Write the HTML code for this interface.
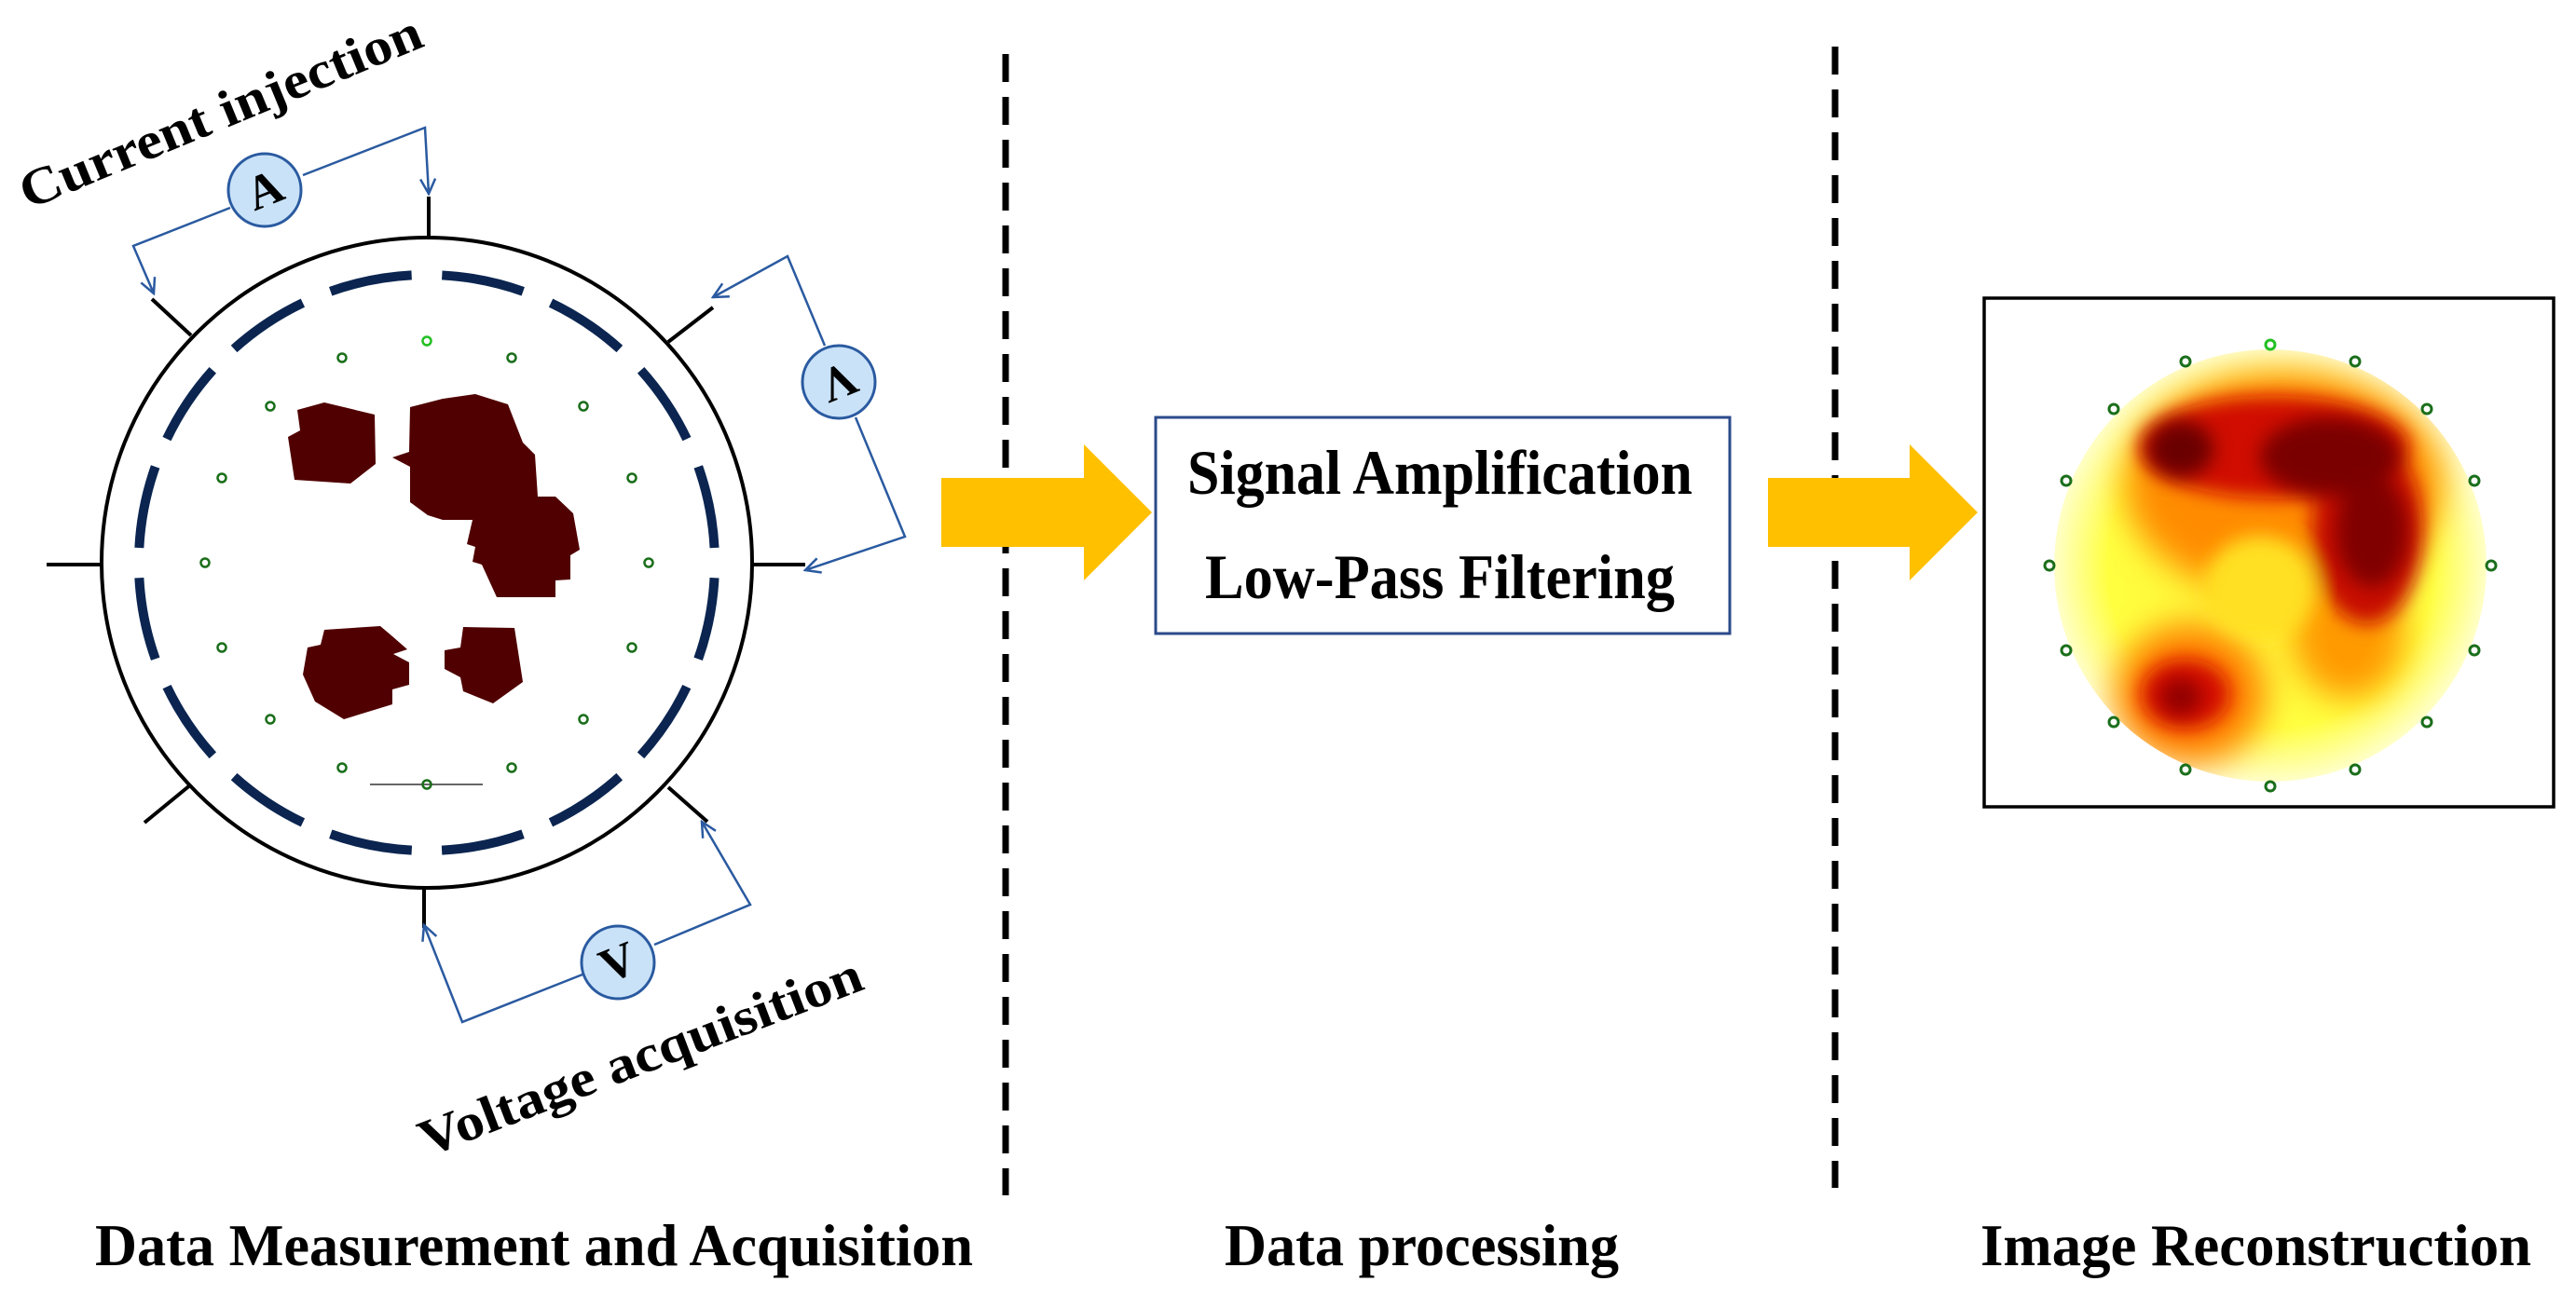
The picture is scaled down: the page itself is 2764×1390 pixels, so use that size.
<!DOCTYPE html>
<html><head><meta charset="utf-8"><style>html,body{margin:0;padding:0;background:#fff}svg{display:block}</style></head>
<body>
<svg width="2764" height="1390" viewBox="0 0 2764 1390" xmlns="http://www.w3.org/2000/svg">
<defs>
<radialGradient id="base" cx="0.5" cy="0.5" r="0.5">
<stop offset="0" stop-color="#ffee30"/><stop offset="0.75" stop-color="#ffff40"/><stop offset="1" stop-color="#ffffc8"/>
</radialGradient>
<filter id="bl" x="-50%" y="-50%" width="200%" height="200%"><feGaussianBlur stdDeviation="18"/></filter>
<filter id="bl2" x="-50%" y="-50%" width="200%" height="200%"><feGaussianBlur stdDeviation="10"/></filter>
<clipPath id="hc"><circle cx="2436" cy="607" r="232"/></clipPath>
<marker id="ar" viewBox="0 0 20 20" refX="18" refY="10" markerWidth="20" markerHeight="20" markerUnits="userSpaceOnUse" orient="auto"><path d="M2,2 L18,10 L2,18" fill="none" stroke="#2a5aa0" stroke-width="2.5"/></marker>
</defs>

<line x1="1079" y1="58" x2="1079" y2="1283" stroke="#000" stroke-width="7" stroke-dasharray="30 16"/>
<line x1="1969" y1="50" x2="1969" y2="1275" stroke="#000" stroke-width="7" stroke-dasharray="30 16"/>

<circle cx="458" cy="604" r="349" fill="#fff" stroke="#000" stroke-width="4"/>
<path d="M458,295 A309,309 0 1 1 457.9,295" fill="none" stroke="#0b2550" stroke-width="10" stroke-dasharray="89 32.3" stroke-dashoffset="105"/>
<g stroke="#000" stroke-width="4">
<line x1="460" y1="255" x2="460" y2="211"/>
<line x1="110" y1="606" x2="50" y2="606"/>
<line x1="807" y1="606" x2="864" y2="606"/>
<line x1="455" y1="952" x2="455" y2="996"/>
<line x1="205" y1="360" x2="163" y2="321"/>
<line x1="717" y1="367" x2="765" y2="330"/>
<line x1="205" y1="842" x2="155" y2="883"/>
<line x1="717" y1="845" x2="759" y2="882"/>
</g>
<g fill="#500000">
<polygon points="319,440 348,432 402,445 403,498 376,519 316,515 309,469 322,462"/>
<polygon points="440,437 475,428 510,423 545,434 561,475 574,488 577,533 596,533 615,551 622,590 612,596 612,622 596,623 596,641 533,641 517,606 507,603 510,587 501,584 507,558 475,558 459,553 440,539 440,501 421,491 439,485"/>
<polygon points="348,676 408,672 421,683 437,697 422,702 439,711 439,735 421,740 421,756 369,772 338,753 325,724 330,695 344,692"/>
<polygon points="497,673 552,674 561,732 529,755 497,742 494,727 477,718 477,698 494,695"/>
</g>
<line x1="397" y1="842" x2="518" y2="842" stroke="#333" stroke-width="1.5"/>
<g fill="none" stroke="#1a6e1a" stroke-width="2.5">
<circle cx="458" cy="366" r="4.5" stroke="#22c022"/>
<circle cx="549" cy="384" r="4.5"/><circle cx="626" cy="436" r="4.5"/><circle cx="678" cy="513" r="4.5"/>
<circle cx="696" cy="604" r="4.5"/><circle cx="678" cy="695" r="4.5"/><circle cx="626" cy="772" r="4.5"/>
<circle cx="549" cy="824" r="4.5"/><circle cx="458" cy="842" r="4.5"/><circle cx="367" cy="824" r="4.5"/>
<circle cx="290" cy="772" r="4.5"/><circle cx="238" cy="695" r="4.5"/><circle cx="220" cy="604" r="4.5"/>
<circle cx="238" cy="513" r="4.5"/><circle cx="290" cy="436" r="4.5"/><circle cx="367" cy="384" r="4.5"/>
</g>

<g fill="none" stroke="#2a5aa0" stroke-width="2.5">
<polyline points="247,223 143,264 165,315" marker-end="url(#ar)"/>
<polyline points="325,188 456,137 460,208" marker-end="url(#ar)"/>
<polyline points="885,371 845,275 765,319" marker-end="url(#ar)"/>
<polyline points="918,448 971,576 864,612" marker-end="url(#ar)"/>
<polyline points="625,1046 496,1097 455,993" marker-end="url(#ar)"/>
<polyline points="702,1014 805,971 753,882" marker-end="url(#ar)"/>
</g>
<g fill="#c9e2f8" stroke="#2a5aa0" stroke-width="3">
<circle cx="284" cy="204" r="39"/><circle cx="900" cy="410" r="39"/><circle cx="663" cy="1033" r="39"/>
</g>
<g font-family="Liberation Serif, serif" font-weight="bold" font-size="52" text-anchor="middle" fill="#000">
<text x="284" y="221" transform="rotate(-22 284 204)">A</text>
<text x="900" y="427" transform="rotate(158 900 410)">V</text>
<text x="663" y="1050" transform="rotate(-22 663 1033)">V</text>
</g>
<g font-family="Liberation Serif, serif" font-weight="bold" font-size="56" fill="#000">
<text x="30" y="225" transform="rotate(-22.4 30 225)" textLength="462" lengthAdjust="spacingAndGlyphs">Current injection</text>
<text x="458" y="1242" transform="rotate(-21 458 1242)" textLength="505" lengthAdjust="spacingAndGlyphs">Voltage acquisition</text>
</g>

<polygon points="1010,513 1163,513 1163,477 1236,550 1163,623 1163,587 1010,587" fill="#ffc000"/>
<polygon points="1897,513 2049,513 2049,477 2122,550 2049,623 2049,587 1897,587" fill="#ffc000"/>

<rect x="1240" y="448" width="616" height="232" fill="#fff" stroke="#2a4a8a" stroke-width="3"/>
<g font-family="Liberation Serif, serif" font-weight="bold" font-size="68" fill="#000">
<text x="1274" y="530" textLength="542" lengthAdjust="spacingAndGlyphs">Signal Amplification</text>
<text x="1293" y="642" textLength="504" lengthAdjust="spacingAndGlyphs">Low-Pass Filtering</text>
</g>

<rect x="2129" y="320" width="611" height="546" fill="#fff" stroke="#000" stroke-width="3.5"/>
<g clip-path="url(#hc)">
<circle cx="2436" cy="607" r="232" fill="url(#base)"/>
<g filter="url(#bl)">
<ellipse cx="2450" cy="520" rx="170" ry="120" fill="#ff8c00"/>
<ellipse cx="2350" cy="745" rx="80" ry="75" fill="#ff8000"/>
<ellipse cx="2520" cy="680" rx="60" ry="70" fill="#ff9a00"/>
</g>
<g filter="url(#bl2)">
<ellipse cx="2440" cy="480" rx="145" ry="55" fill="#d01000"/>
<ellipse cx="2540" cy="570" rx="60" ry="100" fill="#c80800"/>
<ellipse cx="2345" cy="745" rx="48" ry="38" fill="#d41000"/>
<ellipse cx="2425" cy="630" rx="60" ry="55" fill="#ffe020"/>
</g>
<g filter="url(#bl2)">
<ellipse cx="2340" cy="482" rx="35" ry="30" fill="#6a0000"/>
<ellipse cx="2500" cy="490" rx="75" ry="42" fill="#7a0000"/>
<ellipse cx="2545" cy="570" rx="38" ry="60" fill="#800000"/>
<ellipse cx="2340" cy="748" rx="22" ry="20" fill="#900000"/>
</g>
</g>
<g fill="none" stroke="#1a6e1a" stroke-width="3">
<circle cx="2436" cy="370" r="5" stroke="#22c022"/>
<circle cx="2527" cy="388" r="5"/><circle cx="2604" cy="439" r="5"/><circle cx="2655" cy="516" r="5"/>
<circle cx="2673" cy="607" r="5"/><circle cx="2655" cy="698" r="5"/><circle cx="2604" cy="775" r="5"/>
<circle cx="2527" cy="826" r="5"/><circle cx="2436" cy="844" r="5"/><circle cx="2345" cy="826" r="5"/>
<circle cx="2268" cy="775" r="5"/><circle cx="2217" cy="698" r="5"/><circle cx="2199" cy="607" r="5"/>
<circle cx="2217" cy="516" r="5"/><circle cx="2268" cy="439" r="5"/><circle cx="2345" cy="388" r="5"/>
</g>

<g font-family="Liberation Serif, serif" font-weight="bold" font-size="64" fill="#000">
<text x="102" y="1358" textLength="942" lengthAdjust="spacingAndGlyphs">Data Measurement and Acquisition</text>
<text x="1314" y="1358" textLength="423" lengthAdjust="spacingAndGlyphs">Data processing</text>
<text x="2125" y="1358" textLength="591" lengthAdjust="spacingAndGlyphs">Image Reconstruction</text>
</g>
</svg>
</body></html>
